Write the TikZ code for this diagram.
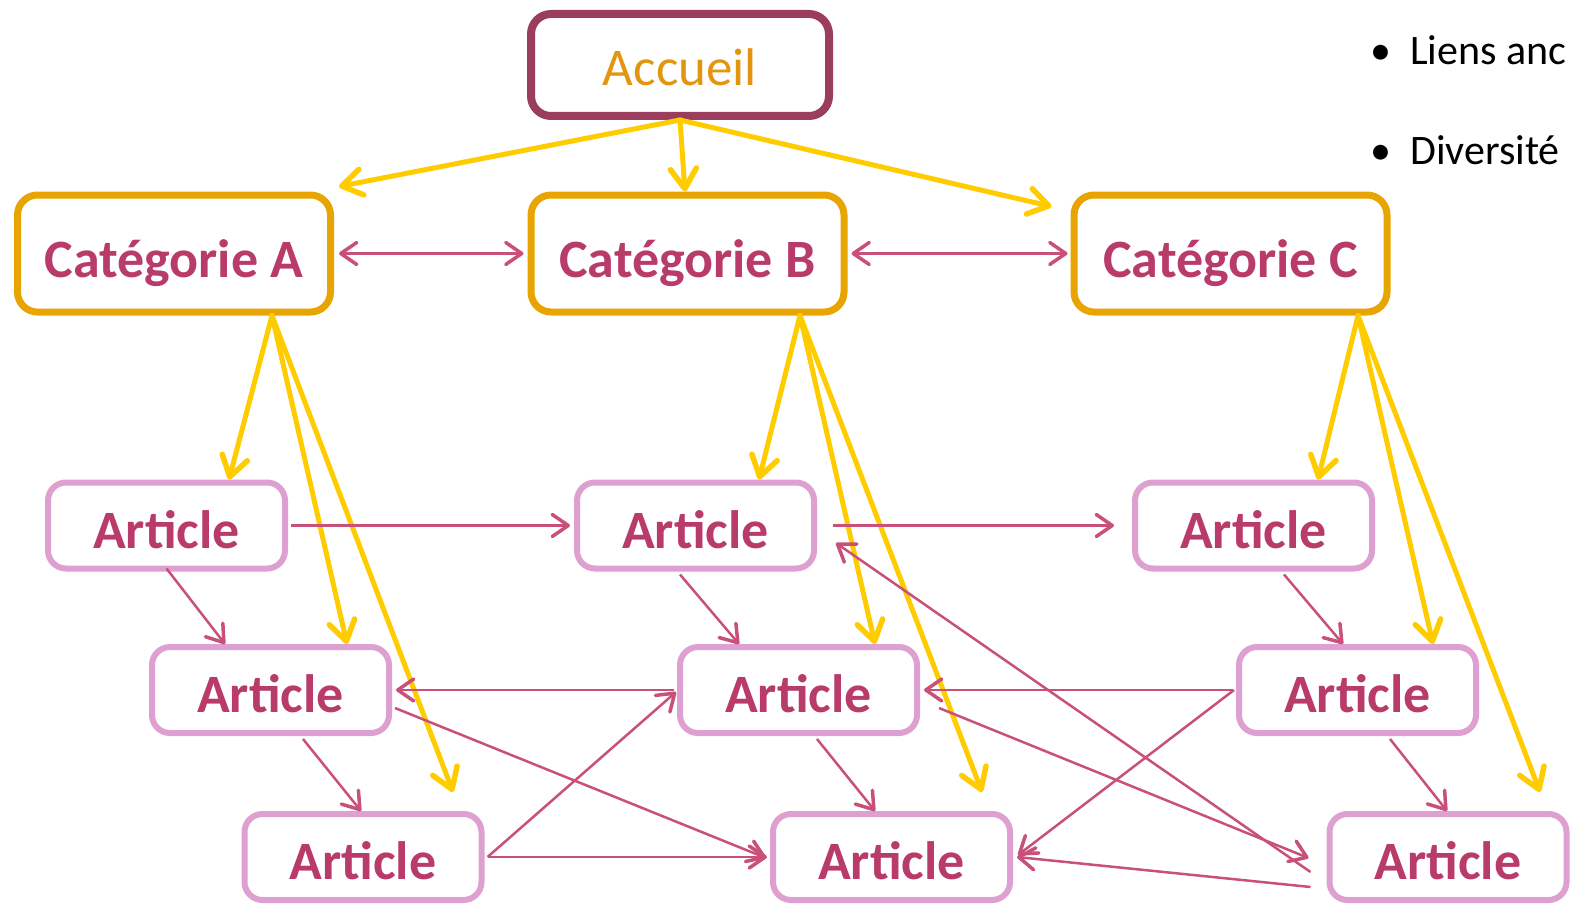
\documentclass[tikz,border=0pt]{standalone}
\usepackage{fontspec}
\setmainfont{Carlito}
\usetikzlibrary{arrows.meta}
\definecolor{accB}{HTML}{9B3D5C}
\definecolor{accT}{HTML}{E3950E}
\definecolor{catB}{HTML}{E8A400}
\definecolor{artB}{HTML}{DDA0D0}
\definecolor{artT}{HTML}{B83B6A}
\definecolor{yel}{HTML}{FFCC00}
\definecolor{pnk}{HTML}{C8507A}
\begin{document}
\begin{tikzpicture}[x=1pt,y=-1pt,
  accbox/.style={draw=accB, fill=white, line width=8pt, rounded corners=20pt, minimum width=298pt, minimum height=102pt, inner sep=0pt, font=\fontsize{53}{60}\selectfont, text=accT, text height=41pt, text depth=0pt},
  catbox/.style={draw=catB, fill=white, line width=7pt, rounded corners=20pt, minimum width=313pt, minimum height=117pt, inner sep=0pt, font=\bfseries\fontsize{54}{60}\selectfont, text=artT, text height=47pt, text depth=0pt},
  artbox/.style={draw=artB, fill=white, line width=6pt, rounded corners=18pt, minimum width=237pt, minimum height=86pt, inner sep=0pt, font=\bfseries\fontsize{54}{60}\selectfont, text=artT, text height=45pt, text depth=0pt},
  ytip/.tip={Straight Barb[length=20pt,width=26pt,line width=5.5pt,line cap=round,line join=round]},
  ptip/.tip={Straight Barb[length=16pt,width=22pt,line width=3.5pt,line cap=round,line join=round]},
  ylink/.style={draw=yel, line width=5pt, line cap=round, -ytip},
  plink/.style={draw=pnk, line width=2.5pt, -ptip},
  plinkb/.style={draw=pnk, line width=2.5pt, ptip-ptip},
  bultext/.style={anchor=base west, inner sep=0pt, font=\fontsize{42}{50}\selectfont}
]
\useasboundingbox (0,0) rectangle (1570,904);
% boxes
\node[accbox] (acc) at (680,65) {Accueil};
\node[catbox] (catA) at (174,253.5) {Catégorie A};
\node[catbox] (catB) at (687.5,253.5) {Catégorie B};
\node[catbox] (catC) at (1230.5,253.5) {Catégorie C};
\node[artbox] (A1) at (166.5,525.5) {Article};
\node[artbox] (B1) at (695.5,525.5) {Article};
\node[artbox] (C1) at (1253.5,525.5) {Article};
\node[artbox] (A2) at (270.5,690) {Article};
\node[artbox] (B2) at (798.5,690) {Article};
\node[artbox] (C2) at (1357.5,690) {Article};
\node[artbox] (A3) at (363,857) {Article};
\node[artbox] (B3) at (891.5,857) {Article};
\node[artbox] (C3) at (1448,857) {Article};
% bullets
\node[bultext] (b1) at (1370,65) {•};
\node[bultext] (t1) at (1410,65) {Liens anc};
\node[bultext] (b2) at (1370,165) {•};
\node[bultext] (t2) at (1410,165) {Diversité};
% yellow links
\draw[ylink] (acc.south) -- ([shift={(5,-5)}]catA.north east);
\draw[ylink] (acc.south) -- ([xshift=-2.5]catB.north);
\draw[ylink] (acc.south) -- ([shift={(-19,15)}]catC.north west);
\draw[ylink] ([xshift=98]catA.south) -- ([xshift=62.5]A1.north);
\draw[ylink] ([xshift=98]catA.south) -- ([xshift=76.5]A2.north);
\draw[ylink] ([xshift=98]catA.south) -- ([shift={(90,-19)}]A3.north);
\draw[ylink] ([xshift=112.5]catB.south) -- ([xshift=63.5]B1.north);
\draw[ylink] ([xshift=112.5]catB.south) -- ([xshift=76.5]B2.north);
\draw[ylink] ([xshift=112.5]catB.south) -- ([shift={(90.5,-19)}]B3.north);
\draw[ylink] ([xshift=127.5]catC.south) -- ([xshift=64.5]C1.north);
\draw[ylink] ([xshift=127.5]catC.south) -- ([xshift=75.5]C2.north);
\draw[ylink] ([xshift=127.5]catC.south) -- ([shift={(92,-19)}]C3.north);
% pink links
\draw[plinkb] ([xshift=5]catA.east) -- ([xshift=-4]catB.west);
\draw[plinkb] ([xshift=4]catB.east) -- ([xshift=-3]catC.west);
\draw[plink] ([xshift=3]A1.east) -- ([xshift=-4]B1.west);
\draw[plink] ([xshift=16]B1.east) -- ([xshift=-18]C1.west);
\draw[plink] ([yshift=3]A1.south) -- ([xshift=-45.5]A2.north);
\draw[plink] ([shift={(-15.5,3)}]B1.south) -- ([xshift=-59.5]B2.north);
\draw[plink] ([shift={(30.5,3)}]C1.south) -- ([xshift=-14.5]C2.north);
\draw[plink] ([shift={(32.5,3)}]A2.south) -- ([xshift=-2]A3.north);
\draw[plink] ([shift={(18.5,3)}]B2.south) -- ([xshift=-16.5]B3.north);
\draw[plink] ([shift={(32.5,3)}]C2.south) -- ([xshift=-1]C3.north);
\draw[plink] ([xshift=-3]B2.west) -- ([xshift=4]A2.east);
\draw[plink] ([xshift=-3]C2.west) -- ([xshift=4]B2.east);
\draw[plink] ([xshift=3]A3.east) -- ([xshift=-3]B3.west);
\draw[plink] ([xshift=3]A3.east) -- ([shift={(-1,2)}]B2.west);
\draw[plink] ([shift={(3,18)}]A2.east) -- ([shift={(-4,1)}]B3.west);
\draw[plink] ([shift={(19,18)}]B2.east) -- ([shift={(-18,1)}]C3.west);
\draw[plink] ([shift={(-16,30)}]C3.west) -- ([xshift=4]B3.east);
\draw[plink] ([xshift=-2]C2.west) -- ([shift={(5,-2)}]B3.east);
\draw[plink] ([shift={(-16,15)}]C3.west) -- ([shift={(19,17.5)}]B1.east);
\end{tikzpicture}
\end{document}
